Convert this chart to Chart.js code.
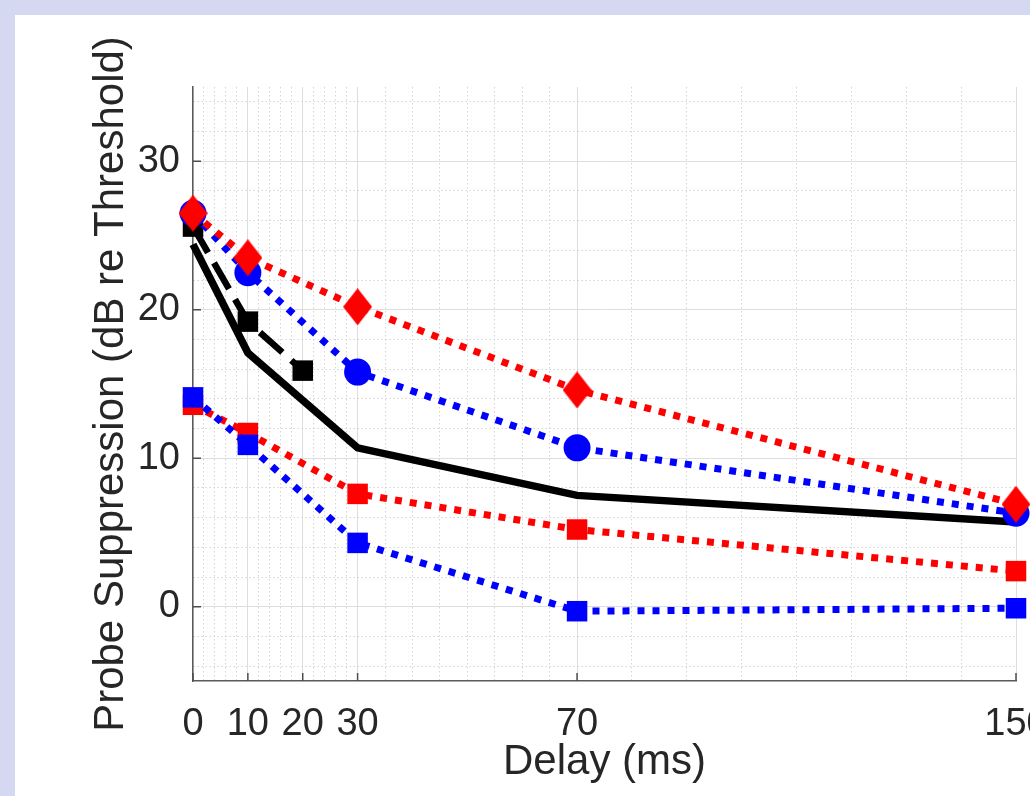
<!DOCTYPE html>
<html>
<head>
<meta charset="utf-8">
<script src="https://cdn.jsdelivr.net/npm/chart.js@4.4.1/dist/chart.umd.min.js"></script>
<style>
  html, body { margin: 0; padding: 0; width: 1030px; height: 796px; overflow: hidden; background: #d4d8f0; }
  #panel { position: absolute; left: 15px; top: 15px; width: 1100px; height: 800px; background: #fff; }
  #chart { position: absolute; left: 0; top: 0; }
</style>
</head>
<body>
<div id="panel"></div>
<canvas id="chart" width="1100" height="796"></canvas>
<script>
// delays (ms) and suppression values (dB re threshold)
const delays = [0, 10, 30, 70, 150];
const shortDelays = [0, 10, 20];
const redDiamonds = [26.5, 23.5, 20.2, 14.6, 6.9];
const blueCircles = [26.5, 22.5, 15.8, 10.7, 6.3];
const blackSolid = [24.4, 17.1, 10.7, 7.5, 5.7];
const blackDashed = [25.6, 19.2, 15.9];
const redSquares = [13.6, 11.7, 7.6, 5.2, 2.4];
const blueSquares = [14.1, 10.9, 4.3, -0.3, -0.1];

// tick positions
const xMajor = [0, 10, 20, 30, 70, 150];
const xMinor = [2, 4, 6, 8, 12, 14, 16, 18, 22, 24, 26, 28, 35, 40, 45, 50, 55, 60, 65, 80, 90, 100, 110, 120, 130, 140];
const yMajor = [0, 10, 20, 30];
const yMinor = [-4, -2, 2, 4, 6, 8, 12, 14, 16, 18, 22, 24, 26, 28, 32, 34];

const FONT = "'Liberation Sans', Arial, sans-serif";
const TEXT = "#262626";

function toPoints(xs, ys) {
    return xs.map((x, i) => ({ x: x, y: ys[i] }));
}

// tall diamond marker (matlab style 'd')
function diamondMarker(color, w, h) {
    const c = document.createElement("canvas");
    c.width = w;
    c.height = h;
    const g = c.getContext("2d");
    g.fillStyle = color;
    g.beginPath();
    g.moveTo(w / 2, 0);
    g.lineTo(w, h / 2);
    g.lineTo(w / 2, h);
    g.lineTo(0, h / 2);
    g.closePath();
    g.fill();
    return c;
}

function dotted(label, xs, ys, color, style, radius) {
    return {
        label: label,
        data: toPoints(xs, ys),
        borderColor: color,
        backgroundColor: color,
        borderWidth: 7,
        borderDash: [7, 8],
        borderCapStyle: "butt",
        pointStyle: style,
        pointRadius: radius,
        pointBorderWidth: 0,
        pointBackgroundColor: color,
        tension: 0,
        clip: false
    };
}

// grid style: solid for major ticks, dotted for minor ones
function gridColor(ctx, majors) {
    if (!ctx.tick) return "#dedede";
    return majors.includes(ctx.tick.value) ? "#dedede" : "#d4d4d4";
}
function gridDash(ctx, majors) {
    if (!ctx.tick) return [];
    return majors.includes(ctx.tick.value) ? [] : [1.5, 2.5];
}

// small inward tick marks like the original
const innerTicks = {
    id: "innerTicks",
    beforeDatasetsDraw(chart) {
        const { ctx, chartArea, scales } = chart;
        ctx.save();
        ctx.strokeStyle = "#4d4d4d";
        ctx.lineWidth = 1.5;
        ctx.beginPath();
        xMajor.forEach(v => {
            const px = scales.x.getPixelForValue(v);
            ctx.moveTo(px, chartArea.bottom);
            ctx.lineTo(px, chartArea.bottom - 8);
        });
        yMajor.forEach(v => {
            const py = scales.y.getPixelForValue(v);
            ctx.moveTo(chartArea.left, py);
            ctx.lineTo(chartArea.left + 8, py);
        });
        ctx.stroke();
        ctx.restore();
    }
};

const ctx = document.getElementById("chart").getContext("2d");

new Chart(ctx, {
    type: "line",
    data: {
        datasets: [
            dotted("Red diamonds", delays, redDiamonds, "#ff0000", diamondMarker("#ff0000", 29, 37), 16),
            dotted("Blue circles", delays, blueCircles, "#0000ff", "circle", 13.5),
            dotted("Blue squares", delays, blueSquares, "#0000ff", "rect", 14.5),
            dotted("Red squares", delays, redSquares, "#ff0000", "rect", 14.5),
            {
                label: "Black dashed",
                data: toPoints(shortDelays, blackDashed),
                borderColor: "#000",
                borderWidth: 6.5,
                borderDash: [30, 12],
                borderCapStyle: "butt",
                pointStyle: "rect",
                pointRadius: 14.5,
                pointBorderWidth: 0,
                pointBackgroundColor: "#000",
                clip: false
            },
            {
                label: "Black solid",
                data: toPoints(delays, blackSolid),
                borderColor: "#000",
                borderWidth: 7.5,
                pointRadius: 0,
                clip: false
            }
        ]
    },
    options: {
        responsive: false,
        animation: false,
        layout: { padding: { left: 0, top: 87, right: 84, bottom: 0 } },
        plugins: {
            legend: { display: false },
            tooltip: { enabled: false }
        },
        scales: {
            x: {
                type: "linear",
                min: 0,
                max: 150,
                afterBuildTicks: scale => {
                    scale.ticks = xMajor.concat(xMinor).sort((a, b) => a - b).map(v => ({ value: v }));
                },
                afterFit: scale => { scale.height = 115; },
                ticks: {
                    autoSkip: false,
                    maxRotation: 0,
                    padding: 21,
                    color: TEXT,
                    font: { family: FONT, size: 38 },
                    callback: value => xMajor.includes(value) ? String(value) : ""
                },
                grid: {
                    drawTicks: false,
                    lineWidth: 1,
                    color: ctx => gridColor(ctx, xMajor)
                },
                border: {
                    color: "#5a5a5a",
                    width: 1.5,
                    dash: ctx => gridDash(ctx, xMajor)
                },
                title: {
                    display: true,
                    text: "Delay (ms)",
                    color: TEXT,
                    font: { family: FONT, size: 42 },
                    padding: { top: 0, bottom: 8 }
                }
            },
            y: {
                type: "linear",
                min: -5,
                max: 35,
                afterBuildTicks: scale => {
                    scale.ticks = yMajor.concat(yMinor).sort((a, b) => a - b).map(v => ({ value: v }));
                },
                afterFit: scale => { scale.width = 193; },
                ticks: {
                    autoSkip: false,
                    padding: 13,
                    color: TEXT,
                    font: { family: FONT, size: 38 },
                    callback: value => yMajor.includes(value) ? String(value) : ""
                },
                grid: {
                    drawTicks: false,
                    lineWidth: 1,
                    color: ctx => gridColor(ctx, yMajor)
                },
                border: {
                    color: "#5a5a5a",
                    width: 1.5,
                    dash: ctx => gridDash(ctx, yMajor)
                },
                title: {
                    display: true,
                    text: "Probe Suppression (dB re Threshold)",
                    color: TEXT,
                    font: { family: FONT, size: 42 },
                    padding: { top: 86, bottom: 0 }
                }
            }
        }
    },
    plugins: [innerTicks]
});
</script>
</body>
</html>
